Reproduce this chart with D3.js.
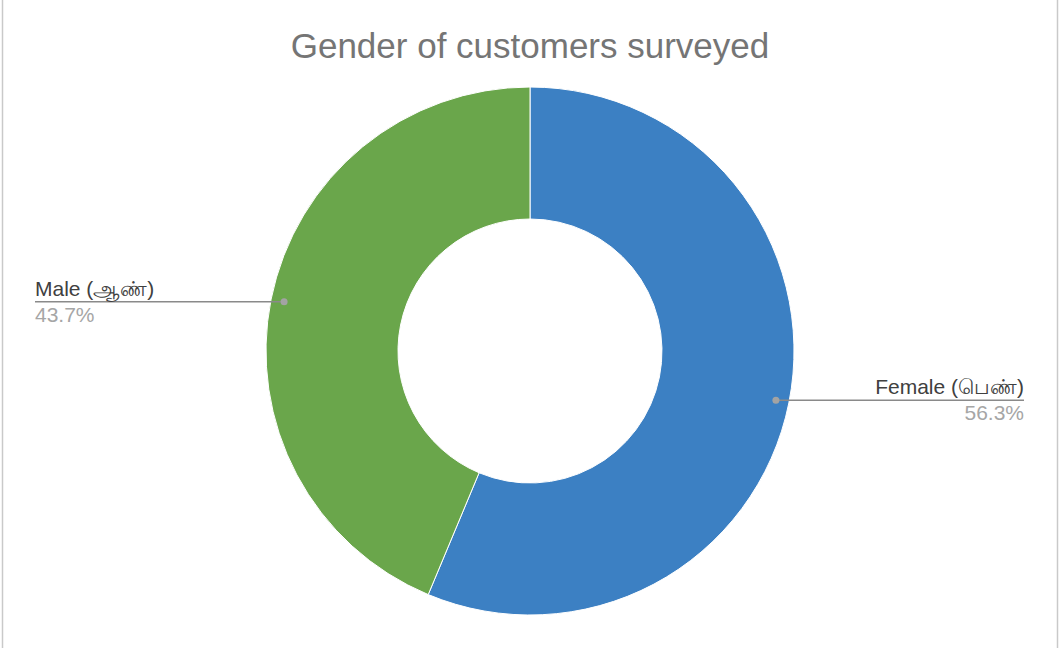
<!DOCTYPE html>
<html>
<head>
<meta charset="utf-8">
<script src="https://cdn.jsdelivr.net/npm/d3@7"></script>
<style>
  html, body { margin: 0; padding: 0; background: #fff; }
  svg { display: block; font-family: "Liberation Sans", Arial, "Noto Sans", sans-serif; }
</style>
</head>
<body>
<svg id="chart" width="1059" height="648"></svg>
<script>
// Survey breakdown by gender
const categories = ["Female (பெண்)", "Male (ஆண்)"];
const shares = [56.3, 43.7];
const percentLabels = ["56.3%", "43.7%"];
const colors = ["#3c80c3", "#6aa64b"];

const W = 1059, H = 648;
const cx = 530, cy = 351, outerR = 264, innerR = 132;

const svg = d3.select("#chart");

// frame edges
svg.append("line").attr("x1", 2.5).attr("x2", 2.5).attr("y1", 0).attr("y2", H)
  .attr("stroke", "#c9c9c9").attr("stroke-width", 1.5);
svg.append("line").attr("x1", W - 1.5).attr("x2", W - 1.5).attr("y1", 0).attr("y2", H)
  .attr("stroke", "#c9c9c9").attr("stroke-width", 1.5);

svg.append("text")
  .attr("x", cx).attr("y", 58)
  .attr("text-anchor", "middle")
  .attr("font-size", 35)
  .attr("fill", "#757575")
  .text("Gender of customers surveyed");

const data = categories.map((c, i) => ({ name: c, value: shares[i], pct: percentLabels[i], color: colors[i] }));

const pie = d3.pie().value(d => d.value).sort(null);
const arcs = pie(data);
const arc = d3.arc().innerRadius(innerR).outerRadius(outerR);
const dotArc = d3.arc().innerRadius(outerR * 0.95).outerRadius(outerR * 0.95);

const g = svg.append("g").attr("transform", `translate(${cx},${cy})`);

g.selectAll("path.slice")
  .data(arcs)
  .join("path")
  .attr("class", "slice")
  .attr("d", arc)
  .attr("fill", d => d.data.color)
  .attr("stroke", "#fff")
  .attr("stroke-width", 1);

// leader lines with labels
const leftX = 35, rightX = 1024;
arcs.forEach(a => {
  const [px, py] = dotArc.centroid(a);
  const ax = cx + px, ay = cy + py;
  const onRight = px > 0;
  const endX = onRight ? rightX : leftX;
  const anchor = onRight ? "end" : "start";

  svg.append("line")
    .attr("x1", ax).attr("y1", ay).attr("x2", endX).attr("y2", ay)
    .attr("stroke", "#8a8a8a").attr("stroke-width", 1.5);
  svg.append("circle")
    .attr("cx", ax).attr("cy", ay).attr("r", 3.5)
    .attr("fill", "#a3a3a3");
  svg.append("text")
    .attr("x", endX).attr("y", ay - 6)
    .attr("text-anchor", anchor)
    .attr("font-size", 21)
    .attr("fill", "#404040")
    .text(a.data.name);
  svg.append("text")
    .attr("x", endX).attr("y", ay + 20)
    .attr("text-anchor", anchor)
    .attr("font-size", 21)
    .attr("fill", "#a6a6a6")
    .text(a.data.pct);
});
</script>
</body>
</html>
